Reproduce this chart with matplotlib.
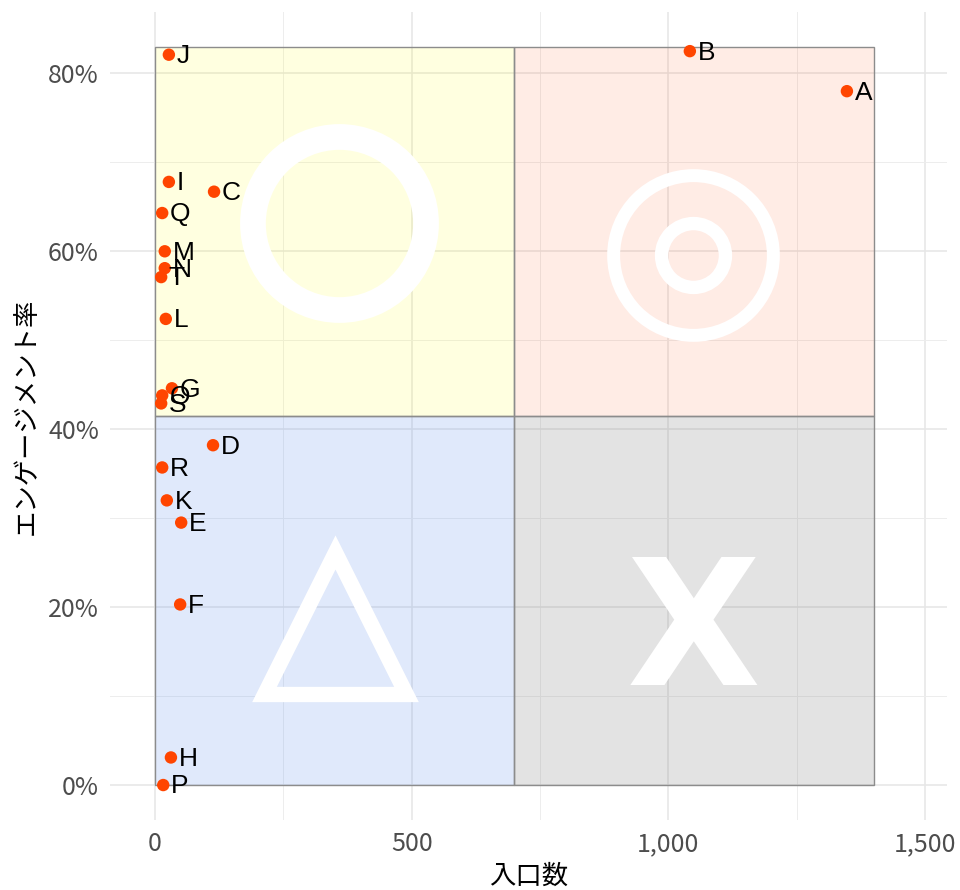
import matplotlib
matplotlib.use('Agg')
import matplotlib.pyplot as plt
from matplotlib.patches import Rectangle
from matplotlib.ticker import FuncFormatter, MultipleLocator

plt.rcParams['font.family'] = ['Noto Sans CJK JP', 'DejaVu Sans']

# data
labels = list('ABCDEFGHIJKLMNOPQRST')
entries = [1348, 1042, 115, 113, 51, 49, 33, 31, 27, 27, 23, 21, 19, 19, 14, 16, 14, 14, 12, 12]
engagement = [78.0, 82.5, 66.7, 38.2, 29.5, 20.3, 44.6, 3.1, 67.8, 82.1,
              32.0, 52.4, 60.0, 58.1, 43.8, 0.0, 64.3, 35.7, 42.9, 57.1]

# quadrant thresholds
x_mid, x_max = 700, 1400
y_mid, y_max = 41.5, 83

quad_colors = {'tl': ('yellow', 0.12), 'tr': ('orangered', 0.1),
               'bl': ('cornflowerblue', 0.2), 'br': ('gray', 0.22)}

fig = plt.figure(figsize=(9.6, 8.9), dpi=100)
ax = fig.add_axes([110 / 960, 70 / 890, 837 / 960, 808 / 890])

ax.set_xlim(-87.7, 1543)
ax.set_ylim(-3.93, 86.9)

ax.xaxis.set_major_locator(MultipleLocator(500))
ax.xaxis.set_minor_locator(MultipleLocator(250))
ax.yaxis.set_major_locator(MultipleLocator(20))
ax.yaxis.set_minor_locator(MultipleLocator(10))
ax.grid(True, which='major', color='#e6e6e6', lw=1.1, zorder=0)
ax.grid(True, which='minor', color='#ededed', lw=0.7, zorder=0)
ax.set_axisbelow(True)
for s in ax.spines.values():
    s.set_visible(False)
ax.tick_params(which='both', length=0, labelsize=18, labelcolor='#4d4d4d', pad=8)
ax.xaxis.set_major_formatter(FuncFormatter(lambda v, p: f'{int(v):,}'))
ax.yaxis.set_major_formatter(FuncFormatter(lambda v, p: f'{int(v)}%'))

# quadrants
quads = [(0, y_mid, x_mid, y_max - y_mid, 'tl'),
         (x_mid, y_mid, x_max - x_mid, y_max - y_mid, 'tr'),
         (0, 0, x_mid, y_mid, 'bl'),
         (x_mid, 0, x_max - x_mid, y_mid, 'br')]
for x0, y0, w, h, k in quads:
    c, a = quad_colors[k]
    ax.add_patch(Rectangle((x0, y0), w, h, facecolor=c, alpha=a, edgecolor='none', zorder=1))
    ax.add_patch(Rectangle((x0, y0), w, h, facecolor='none', edgecolor='#8c8c8c', lw=1.0, zorder=1.5))

# quadrant symbols
ax.plot([358], [63.2], marker='o', ms=124.6, mfc='none', mec='white', mew=18.5, zorder=2)
ax.plot([1048], [59.6], marker='o', ms=115, mfc='none', mec='white', mew=9.3, zorder=2)
ax.plot([1048], [59.6], marker='o', ms=46, mfc='none', mec='white', mew=9.6, zorder=2)
ax.plot([351], [18.2], marker='^', ms=102, mfc='none', mec='white', mew=11, zorder=2)
ax.text(1050, 16.7, 'X', family='DejaVu Sans', weight='bold', fontsize=125,
        color='white', ha='center', va='center', zorder=2)

# points
ax.scatter(entries, engagement, s=80, color='#ff4500', edgecolors='none', zorder=3)
for lab, x, y in zip(labels, entries, engagement):
    ax.annotate(lab, (x, y), xytext=(5.5, -1), textcoords='offset points',
                fontsize=19, family='Liberation Sans', ha='left', va='center', zorder=4)

ax.set_xlabel('入口数', fontsize=19, labelpad=4)
ax.set_ylabel('エンゲージメント率', fontsize=19, labelpad=6)

fig.savefig('out.png', dpi=100)
